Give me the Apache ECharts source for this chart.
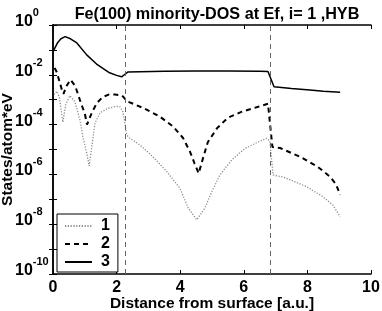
<!DOCTYPE html>
<html><head><meta charset="utf-8">
<script src="https://cdn.jsdelivr.net/npm/echarts@6/dist/echarts.min.js"></script>
<style>html,body{margin:0;padding:0;background:#fff}#c{width:382px;height:311px}</style>
</head><body><div id="c"></div>
<script>
// ---- data ----
const seriesNames = ['1', '2', '3'];
const xTicks = [0, 2, 4, 6, 8, 10];
const boundaries = [2.26, 6.82];

const s1x = [0.03,0.12,0.2,0.31,0.4,0.53,0.69,0.85,0.94,1.06,1.14,1.22,1.32,1.48,1.73,2.0,2.11,2.2,2.32,2.42,2.74,3.14,3.58,3.99,4.25,4.52,4.78,4.99,5.25,5.62,6.04,6.45,6.72,6.82,6.92,7.19,7.35,7.98,8.49,8.8,9.03];
const s1y = [1.6e-3,2.2e-3,1.26e-3,1.26e-4,6.3e-4,1.45e-3,8.3e-4,1.5e-4,3.2e-5,7.2e-6,2.2e-6,1.3e-5,1.15e-4,3.0e-4,4.5e-4,5.4e-4,5.2e-4,3.3e-4,3.8e-5,2.8e-5,1.5e-5,5.1e-6,1.3e-6,2.8e-7,4.5e-8,1.5e-8,4.5e-8,2.0e-7,9.5e-7,3.8e-6,1.1e-5,2.0e-5,2.8e-5,2.2e-5,9.5e-7,8.1e-7,6.9e-7,3.2e-7,1.26e-7,5.9e-8,2.0e-8];

const s2x = [0.05,0.12,0.2,0.28,0.33,0.42,0.55,0.7,0.87,1.0,1.07,1.15,1.23,1.38,1.57,1.75,1.95,2.17,2.26,2.36,2.83,3.36,3.78,4.09,4.31,4.45,4.58,4.72,4.87,5.16,5.5,5.94,6.45,6.76,6.9,7.14,7.77,8.33,8.71,8.9,9.03];
const s2y = [1.9e-2,1.26e-2,5.6e-3,2.5e-3,1.7e-3,3.5e-3,6.3e-3,3.5e-3,7.9e-4,2.8e-4,1.0e-4,1.8e-4,3.2e-4,7.4e-4,1.3e-3,1.6e-3,1.6e-3,1.5e-3,1.1e-3,8.3e-4,4.7e-4,2.1e-4,8.3e-5,2.9e-5,8.1e-6,2.8e-6,1.1e-6,4.6e-6,2.0e-5,7.2e-5,1.9e-4,3.3e-4,5.2e-4,6.9e-4,1.26e-5,1.15e-5,5.1e-6,2.0e-6,8.1e-7,4.0e-7,1.5e-7];

const s3x = [0.03,0.15,0.25,0.38,0.55,0.75,1.06,1.37,1.78,2.0,2.16,2.26,2.36,3.5,4.5,5.5,6.5,6.76,6.95,7.5,8.08,8.5,9.03];
const s3y = [1.0e-1,2.0e-1,2.8e-1,3.4e-1,2.8e-1,1.9e-1,6.3e-2,2.7e-2,1.2e-2,9.5e-3,8.3e-3,1.05e-2,1.3e-2,1.4e-2,1.41e-2,1.41e-2,1.38e-2,1.35e-2,3.3e-3,2.8e-3,2.45e-3,2.2e-3,2.0e-3];

const zip = (xs, ys) => xs.map((x, i) => [x, ys[i]]);
const F = 'Liberation Sans, Arial, Helvetica, sans-serif';

const chart = echarts.init(document.getElementById('c'), null, {renderer: 'canvas'});
const axisLine = {show: true, lineStyle: {color: '#000', width: 1.5}};
const tick = {show: true, inside: true, length: 4, lineStyle: {color: '#000', width: 1}};
const noSym = {opacity: 0, color: 'rgba(0,0,0,0)', borderWidth: 0};

chart.setOption({
  animation: false,
  backgroundColor: '#fff',
  title: {
    text: 'Fe(100) minority-DOS at Ef, i= 1 ,HYB',
    left: 212, top: 2, textAlign: 'center',
    textStyle: {fontFamily: F, fontWeight: 'bold', fontSize: 16.2, color: '#000'}
  },
  grid: {left: 53, right: 11, top: 25, bottom: 37, containLabel: false, outerBoundsMode: 'none'},
  legend: {
    orient: 'vertical', left: 57, top: 214,
    data: seriesNames,
    padding: [4, 8, 2, 7],
    itemWidth: 27, itemHeight: 16, itemGap: 2,
    itemStyle: noSym,
    backgroundColor: '#fff', borderColor: '#000', borderWidth: 1,
    textStyle: {fontFamily: F, fontWeight: 'bold', fontSize: 16, color: '#000', lineHeight: 16, padding: [0, 0, 0, 4]}
  },
  xAxis: [{
    type: 'value', min: 0, max: 10, interval: 2, position: 'bottom',
    axisLine, axisTick: tick, splitLine: {show: false},
    axisLabel: {fontFamily: F, fontWeight: 'bold', fontSize: 16, color: '#000', margin: 6,
      formatter: v => xTicks.includes(v) ? String(v) : ''},
    name: 'Distance from surface [a.u.]', nameLocation: 'middle', nameGap: 22, nameMoveOverlap: false,
    nameTextStyle: {fontFamily: F, fontWeight: 'bold', fontSize: 15.5, color: '#000'}
  }, {
    type: 'value', min: 0, max: 10, interval: 2, position: 'top',
    axisLine, axisTick: tick, axisLabel: {show: false}, splitLine: {show: false}
  }],
  yAxis: [{
    type: 'log', logBase: 10, min: 1e-10, max: 1, interval: 1, position: 'left',
    axisLine, axisTick: tick, splitLine: {show: false}, minorTick: {show: false},
    axisLabel: {
      align: 'left', margin: 38, color: '#000', padding: [0, 0, 7, 0],
      formatter: v => {
        const e = Math.round(Math.log10(v));
        if (e % 2 !== 0) return '';
        return '{b|10}{s|' + e + '}';
      },
      rich: {
        b: {fontFamily: F, fontWeight: 'bold', fontSize: 16, lineHeight: 16, verticalAlign: 'bottom', color: '#000'},
        s: {fontFamily: F, fontWeight: 'bold', fontSize: 11, lineHeight: 11, verticalAlign: 'bottom', padding: [0, 0, 11, 0], color: '#000'}
      }
    },
    name: 'States/atom*eV', nameLocation: 'middle', nameGap: 37, nameRotate: 90, nameMoveOverlap: false,
    nameTextStyle: {fontFamily: F, fontWeight: 'bold', fontSize: 15.5, color: '#000'}
  }, {
    type: 'log', logBase: 10, min: 1e-10, max: 1, interval: 1, position: 'right',
    axisLine, axisTick: tick, axisLabel: {show: false}, splitLine: {show: false}
  }],
  series: [{
    name: seriesNames[0], type: 'line', symbol: 'none', data: zip(s1x, s1y),
    lineStyle: {color: '#8a8a8a', width: 1.3, type: [1.2, 1.6]}, itemStyle: noSym
  }, {
    name: seriesNames[1], type: 'line', symbol: 'none', data: zip(s2x, s2y),
    lineStyle: {color: '#000', width: 2, type: [5, 4]}, itemStyle: noSym
  }, {
    name: seriesNames[2], type: 'line', symbol: 'none', data: zip(s3x, s3y),
    lineStyle: {color: '#000', width: 1.5, type: 'solid'}, itemStyle: noSym,
    markLine: {
      silent: true, symbol: 'none', label: {show: false},
      lineStyle: {color: '#666', width: 1, type: [5, 4]},
      data: boundaries.map(b => ({xAxis: b}))
    }
  }]
});
</script>
</body></html>
